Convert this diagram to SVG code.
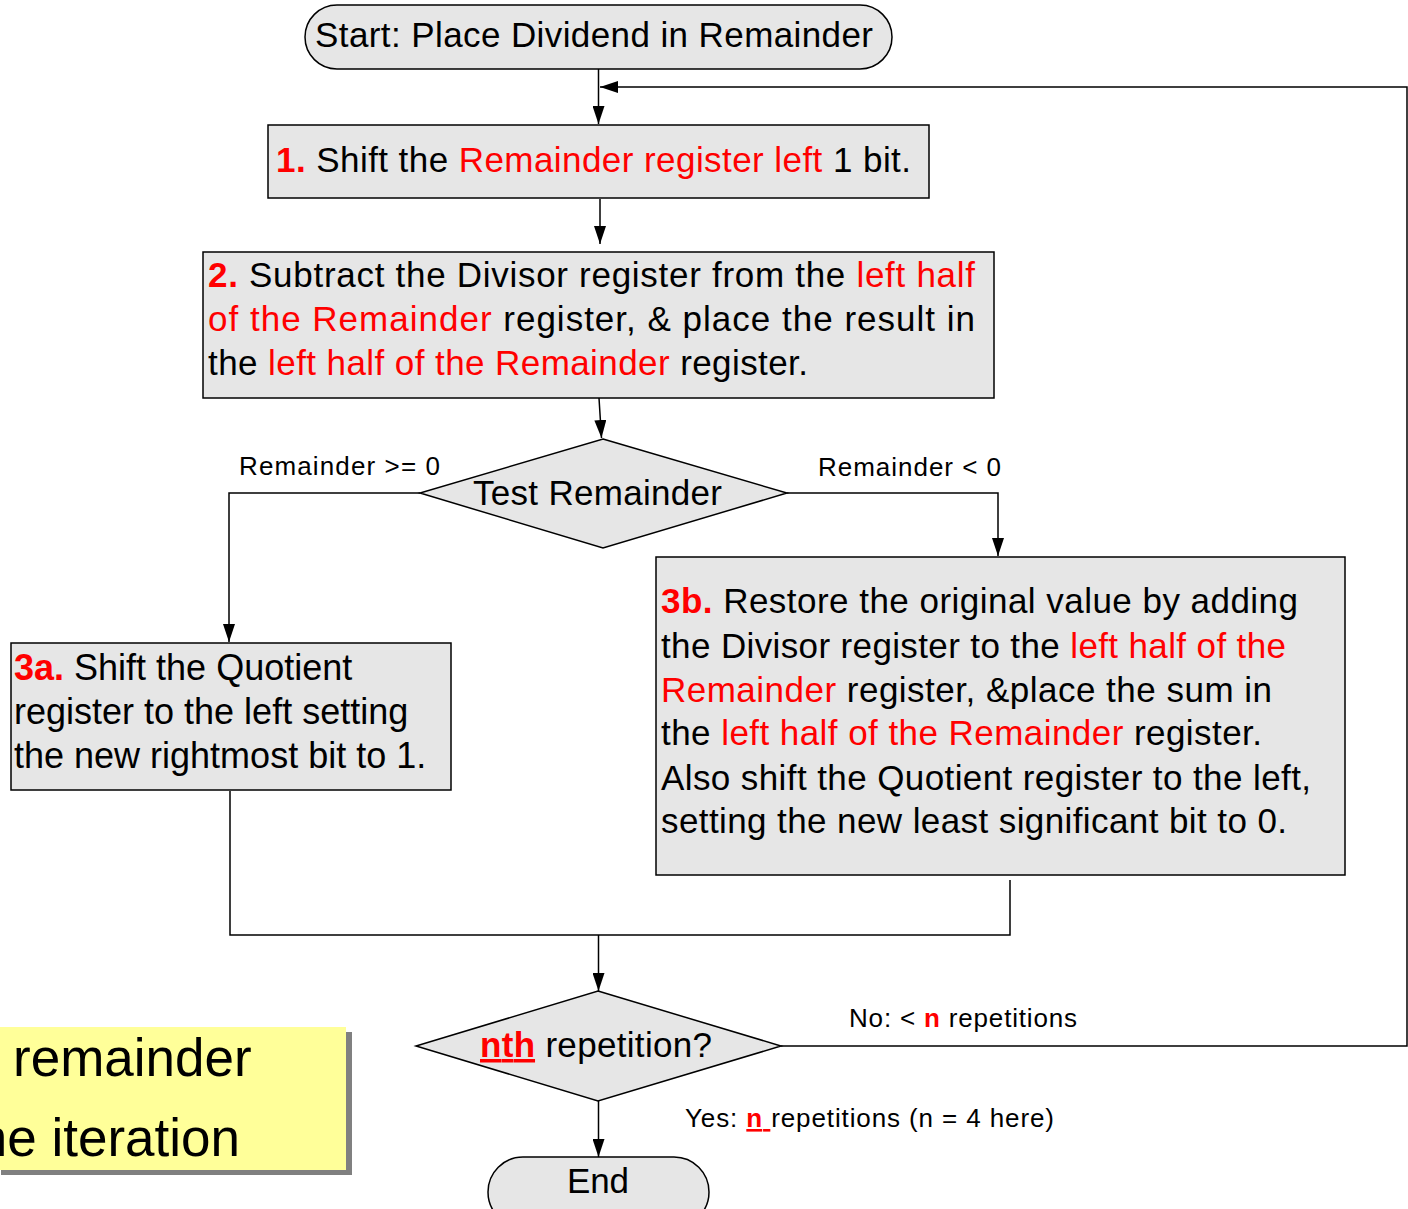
<svg xmlns="http://www.w3.org/2000/svg" width="1408" height="1209" viewBox="0 0 1408 1209">
<style>
text{font-family:"Liberation Sans",Arial,sans-serif;fill:#000}
.r{fill:#ff0000}
.b{font-weight:bold}
.box{fill:#e6e6e6;stroke:#000;stroke-width:1.5}
.big{font-size:35px}
.lbl{font-size:26px}
.ln{fill:none;stroke:#000;stroke-width:1.5}
</style>
<defs>
<marker id="ah" viewBox="0 0 18 12" refX="18" refY="6" markerWidth="18" markerHeight="12" markerUnits="userSpaceOnUse" orient="auto">
<path d="M0,0 L18,6 L0,12 z" fill="#000"/>
</marker>
</defs>
<rect width="1408" height="1209" fill="#fff"/>

<g id="note">
<rect x="1" y="1032" width="351" height="143" fill="#808080"/>
<rect x="-5" y="1027" width="351" height="143" fill="#ffff99"/>
<text x="13" y="1076" style="font-size:53px">remainder</text>
<text x="240" y="1156" text-anchor="end" style="font-size:53px">the iteration</text>
</g>

<g id="connectors">
<line class="ln" x1="598.5" y1="69" x2="598.5" y2="124" marker-end="url(#ah)"/>
<line class="ln" x1="600" y1="199" x2="600" y2="244" marker-end="url(#ah)"/>
<line class="ln" x1="599" y1="398" x2="601.5" y2="438" marker-end="url(#ah)"/>
<polyline class="ln" points="420,493 229,493 229,642" marker-end="url(#ah)"/>
<polyline class="ln" points="787,493 998,493 998,556" marker-end="url(#ah)"/>
<polyline class="ln" points="230,791 230,935 1010,935 1010,880"/>
<line class="ln" x1="598.5" y1="935" x2="598.5" y2="991" marker-end="url(#ah)"/>
<polyline class="ln" points="781,1046 1407,1046 1407,87 600,87" marker-end="url(#ah)"/>
<line class="ln" x1="598.5" y1="1101" x2="598.5" y2="1157" marker-end="url(#ah)"/>
<text class="lbl" x="239" y="475" textLength="201">Remainder &gt;= 0</text>
<text class="lbl" x="818" y="476" textLength="183">Remainder &lt; 0</text>
<text class="lbl" x="849" y="1027" textLength="228">No: &lt; <tspan class="r b">n</tspan> repetitions</text>
<text class="lbl" x="685" y="1127" textLength="369" xml:space="preserve">Yes: <tspan class="r b" text-decoration="underline">n </tspan>repetitions (n = 4 here)</text>
</g>

<g id="start">
<rect class="box" x="305" y="5" width="587" height="64" rx="32" ry="32"/>
<text class="big" x="315" y="47" textLength="558">Start: Place Dividend in Remainder</text>
</g>

<g id="step1">
<rect class="box" x="268" y="125" width="661" height="73"/>
<text class="big" x="276" y="172" textLength="635"><tspan class="r b">1.</tspan> Shift the <tspan class="r">Remainder register left</tspan> 1 bit.</text>
</g>

<g id="step2">
<rect class="box" x="203" y="252" width="791" height="146"/>
<text class="big" x="208" y="287" textLength="767"><tspan class="r b">2.</tspan> Subtract the Divisor register from the <tspan class="r">left half</tspan></text>
<text class="big" x="208" y="331" textLength="767"><tspan class="r">of the Remainder</tspan> register, &amp; place the result in</text>
<text class="big" x="208" y="375" textLength="600">the <tspan class="r">left half of the Remainder</tspan> register.</text>
</g>

<g id="test">
<polygon class="box" points="603,439 787,493 603,548 420,493"/>
<text class="big" x="473" y="505" textLength="249">Test Remainder</text>
</g>

<g id="step3a">
<rect class="box" x="11" y="643" width="440" height="147"/>
<text style="font-size:36px" x="14" y="680"><tspan class="r b">3a.</tspan> Shift the Quotient</text>
<text style="font-size:36px" x="14" y="724">register to the left setting</text>
<text style="font-size:36px" x="14" y="768">the new rightmost bit to 1.</text>
</g>

<g id="step3b">
<rect class="box" x="656" y="557" width="689" height="318"/>
<text class="big" x="661" y="613" textLength="637"><tspan class="r b">3b.</tspan> Restore the original value by adding</text>
<text class="big" x="661" y="658" textLength="625">the Divisor register to the <tspan class="r">left half of the</tspan></text>
<text class="big" x="661" y="702" textLength="611"><tspan class="r">Remainder</tspan> register, &amp;place the sum in</text>
<text class="big" x="661" y="745" textLength="601">the <tspan class="r">left half of the Remainder</tspan> register.</text>
<text class="big" x="661" y="790" textLength="650">Also shift the Quotient register to the left,</text>
<text class="big" x="661" y="833" textLength="626">setting the new least significant bit to 0.</text>
</g>

<g id="nth">
<polygon class="box" points="598,991 781,1046 598,1101 416,1046"/>
<text class="big" x="480" y="1057" textLength="232"><tspan class="r b" text-decoration="underline">nth</tspan> repetition?</text>
</g>

<g id="end">
<rect class="box" x="488" y="1157" width="221" height="70" rx="35" ry="35"/>
<text class="big" x="567" y="1193" textLength="62">End</text>
</g>
</svg>
